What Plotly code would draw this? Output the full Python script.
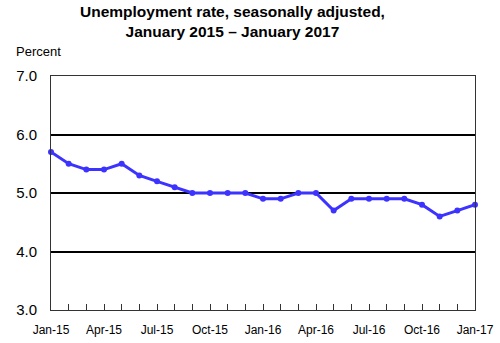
import plotly.graph_objects as go

months = ["Jan-15","Feb-15","Mar-15","Apr-15","May-15","Jun-15","Jul-15","Aug-15","Sep-15","Oct-15","Nov-15","Dec-15",
          "Jan-16","Feb-16","Mar-16","Apr-16","May-16","Jun-16","Jul-16","Aug-16","Sep-16","Oct-16","Nov-16","Dec-16","Jan-17"]
rate = [5.7,5.5,5.4,5.4,5.5,5.3,5.2,5.1,5.0,5.0,5.0,5.0,4.9,4.9,5.0,5.0,4.7,4.9,4.9,4.9,4.9,4.8,4.6,4.7,4.8]
tick_idx = list(range(0, 25, 3))
tick_labels = [months[i] for i in tick_idx]
y_ticks = [3, 4, 5, 6, 7]
y_labels = ["3.0", "4.0", "5.0", "6.0", "7.0"]

x = list(range(len(months)))
fig = go.Figure()
fig.add_trace(go.Scatter(x=x, y=rate, mode="lines+markers",
                         line=dict(color="#3D33FF", width=3),
                         marker=dict(color="#3D33FF", size=6),
                         cliponaxis=False, hoverinfo="skip"))

L, R, T, B = 51, 475, 76, 310
W, H = R - L, B - T
def px(xp): return (xp - L) / W
def py(yp): return (B - yp) / H

font = "Arial, Liberation Sans, sans-serif"
fig.update_layout(
    width=500, height=343,
    margin=dict(l=L, r=500 - R, t=T, b=343 - B, autoexpand=False),
    paper_bgcolor="white", plot_bgcolor="white",
    showlegend=False,
    font=dict(family=font, color="black"),
    annotations=[
        dict(text="<b>Unemployment rate, seasonally adjusted,<br>January 2015 – January 2017</b>",
             x=px(232), y=py(22), xref="paper", yref="paper",
             xanchor="center", yanchor="middle", showarrow=False, align="center",
             font=dict(size=15.5, family=font, color="black")),
        dict(text="Percent", x=px(14), y=py(52), xref="paper", yref="paper",
             xanchor="left", yanchor="middle", showarrow=False,
             font=dict(size=13, family=font, color="black")),
    ],
    xaxis=dict(range=[0, 24], tickvals=tick_idx, ticktext=tick_labels,
               ticks="inside", ticklen=6, tickcolor="#333", tickwidth=1,
               minor=dict(dtick=1, ticks="inside", ticklen=6, tickcolor="#333", tickwidth=1, showgrid=False),
               showline=True, linecolor="#333", linewidth=1, mirror=True,
               showgrid=False, zeroline=False, ticklabelstandoff=9, automargin=False,
               tickfont=dict(size=12, family=font, color="black")),
    yaxis=dict(range=[3, 7], tickvals=y_ticks, ticktext=y_labels,
               showgrid=True, gridcolor="black", gridwidth=2,
               showline=True, linecolor="#333", linewidth=1, mirror=True,
               zeroline=False, ticks="", ticklabelstandoff=10, automargin=False,
               tickfont=dict(size=15, family=font, color="black")),
)
fig.write_html("out.html")
